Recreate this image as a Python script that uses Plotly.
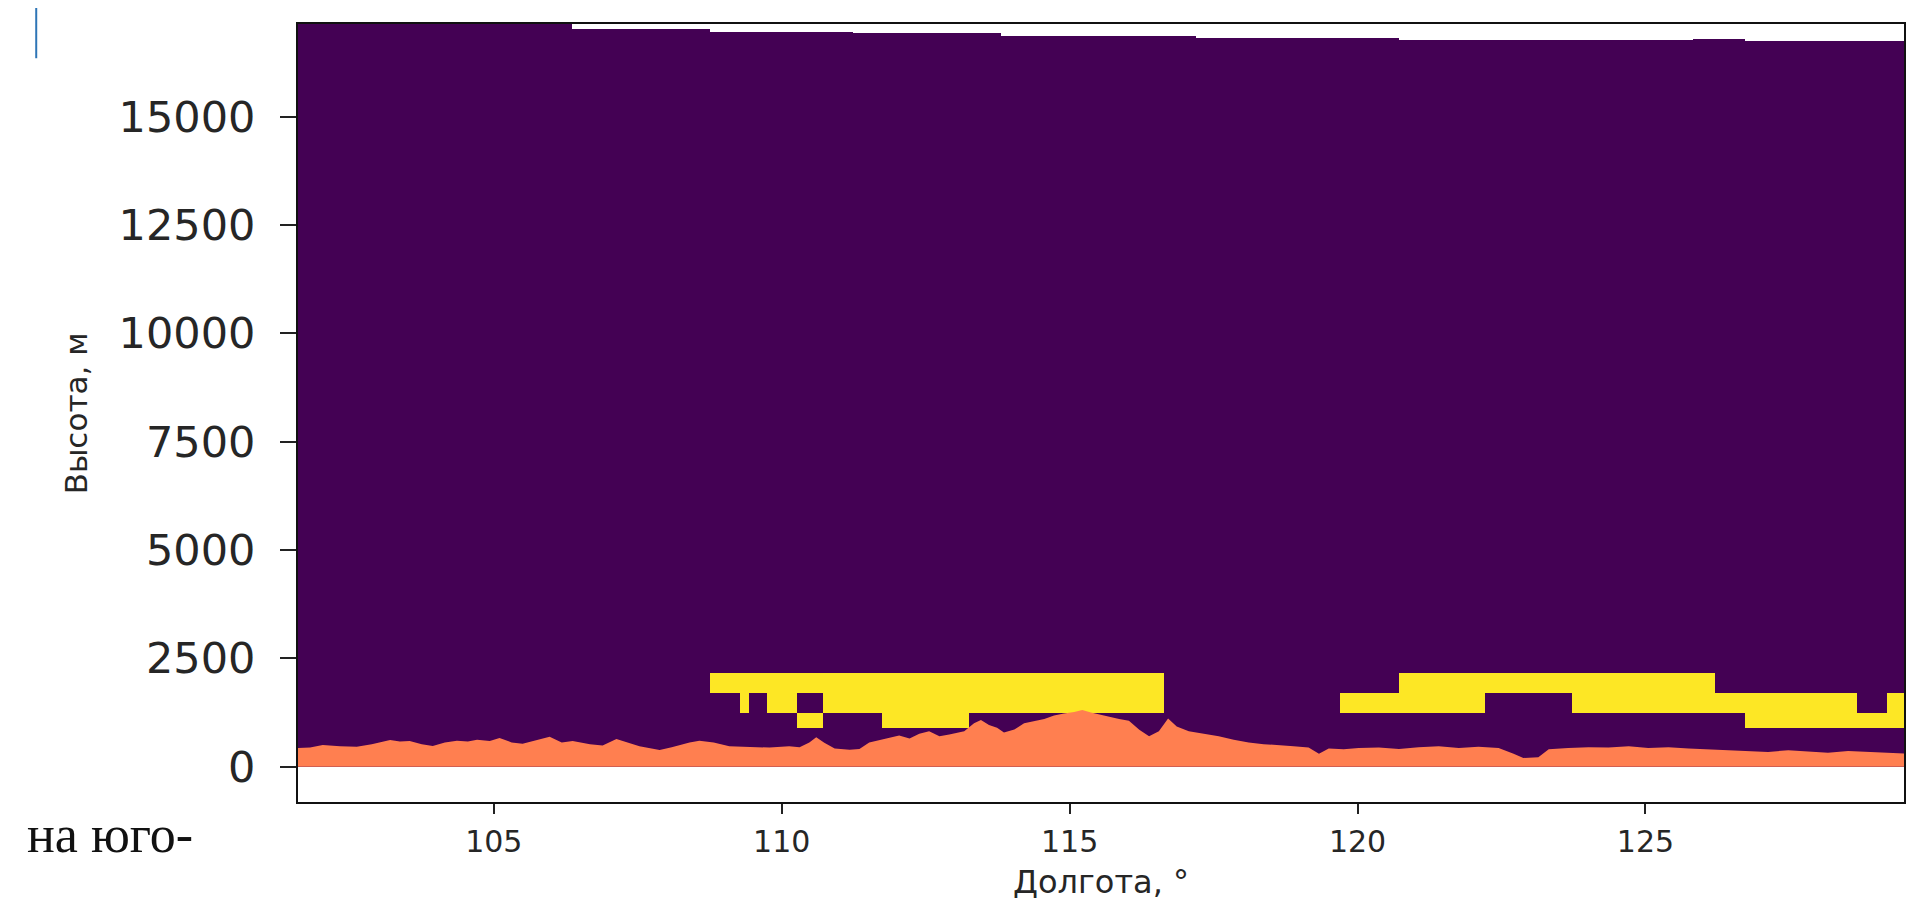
import plotly.graph_objects as go

# ---------------- data ----------------
# Data ceiling of the cross-section (upper edge of the grid), per longitude step
ceiling_lon = [101.60, 106.35, 108.75, 111.24, 113.81, 117.19, 120.72, 125.83, 126.73, 129.56]
ceiling_h = [17140, 17019, 16964, 16922, 16865, 16811, 16761, 16795, 16737]

# Cloud-mask layer boundaries (m)
layer_edges = [900, 1250, 1700, 2170]
# Cloudy longitude intervals per layer
cloud_low = [(110.27, 110.71), (111.75, 113.26), (126.73, 129.56)]
cloud_mid = [(109.27, 109.44), (109.75, 110.27), (110.71, 116.64),
             (119.70, 122.22), (123.72, 128.68), (129.20, 129.56)]
cloud_high = [(108.75, 116.64), (120.72, 126.20)]

# Terrain profile
terrain_lon = [101.60, 101.81, 102.03, 102.33, 102.62, 102.88, 103.20, 103.37, 103.54, 103.75,
               103.94, 104.15, 104.36, 104.55, 104.71, 104.93, 105.10, 105.31, 105.50, 105.75,
               105.97, 106.18, 106.37, 106.67, 106.89, 107.13, 107.32, 107.53, 107.74, 107.88,
               108.09, 108.40, 108.57, 108.82, 109.09, 109.44, 109.79, 110.13, 110.31, 110.48,
               110.60, 110.74, 110.92, 111.18, 111.35, 111.52, 111.70, 111.87, 112.04, 112.22,
               112.39, 112.56, 112.74, 112.91, 113.17, 113.34, 113.46, 113.60, 113.74, 113.86,
               114.04, 114.21, 114.38, 114.56, 114.73, 114.90, 115.08, 115.22, 115.37, 115.51,
               115.69, 115.86, 116.03, 116.21, 116.38, 116.55, 116.71, 116.86, 117.07, 117.33,
               117.59, 117.85, 118.11, 118.37, 118.63, 118.89, 119.15, 119.33, 119.50, 119.76,
               120.02, 120.37, 120.72, 121.06, 121.41, 121.76, 122.10, 122.45, 122.71, 122.88,
               123.14, 123.32, 123.66, 124.01, 124.36, 124.71, 125.05, 125.40, 125.75, 126.09,
               126.44, 126.79, 127.13, 127.48, 127.83, 128.17, 128.52, 128.87, 129.21, 129.56]
terrain_h = [430, 440, 500, 470, 460, 520, 615, 580, 590, 520,
             475, 560, 600, 580, 620, 590, 660, 560, 530, 620,
             690, 560, 590, 520, 490, 640, 560, 470, 420, 385,
             450, 560, 600, 560, 470, 450, 440, 470, 450, 560,
             680, 550, 420, 390, 410, 560, 620, 680, 720, 650,
             760, 820, 700, 740, 820, 1000, 1080, 960, 900, 790,
             860, 1000, 1050, 1100, 1180, 1230, 1260, 1310, 1250, 1200,
             1150, 1100, 1060, 850, 700, 820, 1110, 930, 820, 760,
             700, 620, 560, 520, 500, 470, 440, 300, 420, 400,
             430, 440, 410, 450, 470, 430, 460, 430, 300, 200,
             220, 400, 430, 450, 440, 470, 430, 450, 420, 400,
             390, 370, 340, 380, 350, 320, 360, 340, 330, 300]

x_ticks = [105, 110, 115, 120, 125]
y_ticks = [0, 2500, 5000, 7500, 10000, 12500, 15000]
x_title = "Долгота, °"
y_title = "Высота, м"
side_text = "на юго-"

# ---------------- build the grid ----------------
all_bounds = set(ceiling_lon)
for layer in (cloud_low, cloud_mid, cloud_high):
    for a, b in layer:
        all_bounds.update([a, b])
lon_edges = sorted(all_bounds)
y_edges = [0] + layer_edges + sorted(set(ceiling_h))


def col_ceiling(mid):
    for i in range(len(ceiling_h)):
        if ceiling_lon[i] <= mid < ceiling_lon[i + 1]:
            return ceiling_h[i]
    return ceiling_h[-1]


layers = {1: cloud_low, 2: cloud_mid, 3: cloud_high}
z = []
for r in range(len(y_edges) - 1):
    row = []
    top = y_edges[r + 1]
    for c in range(len(lon_edges) - 1):
        mid = 0.5 * (lon_edges[c] + lon_edges[c + 1])
        if top > col_ceiling(mid) + 0.5:
            row.append(None)
            continue
        val = 0
        lay = layers.get(r)
        if lay:
            for a, b in lay:
                if a <= mid <= b:
                    val = 1
        row.append(val)
    z.append(row)

fig = go.Figure()
fig.add_trace(go.Heatmap(
    x=lon_edges, y=y_edges, z=z, zmin=0, zmax=1,
    colorscale=[[0, "#440154"], [1, "#fde725"]],
    showscale=False, hoverinfo="skip",
))
fig.add_trace(go.Scatter(
    x=terrain_lon, y=terrain_h, mode="lines", fill="tozeroy",
    line=dict(width=0, color="#ff7f50"), fillcolor="#ff7f50",
    showlegend=False, hoverinfo="skip",
))

# the page body keeps its default 8px margin, so the figure is offset by 8px
fig.update_layout(
    width=1898, height=892,
    margin=dict(l=290, r=0, t=16, b=98),
    paper_bgcolor="white", plot_bgcolor="white",
    showlegend=False,
)
fig.update_xaxes(
    range=[101.6, 129.49], tickvals=x_ticks, ticktext=[str(v) for v in x_ticks],
    showgrid=False, zeroline=False, showline=True, mirror=True,
    linecolor="#111111", linewidth=2, ticks="outside", ticklen=10, tickwidth=2,
    tickcolor="#222222", ticklabelstandoff=2,
    tickfont=dict(family="DejaVu Sans", size=30, color="#262626"),
)
fig.update_yaxes(
    range=[-815, 17140], tickvals=y_ticks, ticktext=[str(v) for v in y_ticks],
    showgrid=False, zeroline=False, showline=True, mirror=True,
    linecolor="#111111", linewidth=2, ticks="outside", ticklen=16, tickwidth=2,
    tickcolor="#222222", ticklabelstandoff=16,
    tickfont=dict(family="DejaVu Sans", size=43, color="#262626"),
)

fig.add_annotation(text=x_title, xref="paper", yref="paper", x=0.5, y=-0.103,
                   xanchor="center", yanchor="middle", showarrow=False,
                   font=dict(family="DejaVu Sans", size=32, color="#262626"))
fig.add_annotation(text=y_title, xref="paper", yref="paper", x=-0.138, y=0.5,
                   xanchor="center", yanchor="middle", showarrow=False, textangle=-90,
                   font=dict(family="DejaVu Sans", size=31, color="#262626"))
fig.add_annotation(text=side_text, xref="paper", yref="paper", x=-0.170, y=-0.042,
                   xanchor="left", yanchor="middle", showarrow=False,
                   font=dict(family="Liberation Serif", size=52, color="#111111"))
# thin blue vertical mark in the top-left corner of the page
fig.add_shape(type="line", xref="paper", yref="paper", x0=-0.163, x1=-0.163, y0=1.031, y1=0.956,
              line=dict(color="#2e75b6", width=2))

fig.write_html("out.html")
